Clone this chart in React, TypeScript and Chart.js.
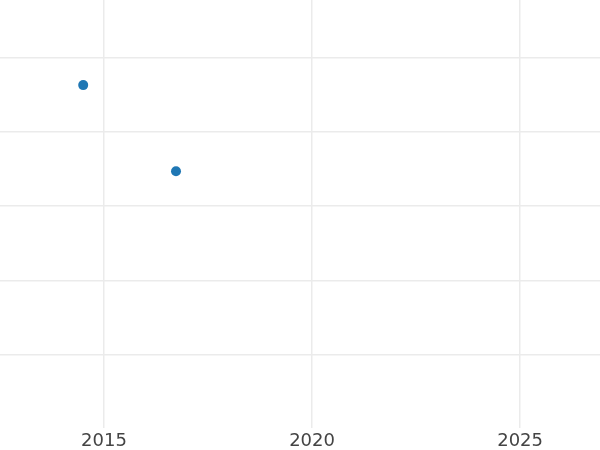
import React, { useEffect, useRef } from "react";
import { Chart, registerables } from "chart.js";

Chart.register(...registerables);

const xValues = [2014.5, 2016.73];
const yValues = [4.635, 3.473];
const xTicks = [2015, 2020, 2025];
const yTicks = [1, 2, 3, 4, 5];

export default function App() {
  const ref = useRef<HTMLCanvasElement | null>(null);
  useEffect(() => {
    document.body.style.margin = "0";
    const ctx = ref.current!;
    const chart = new Chart(ctx, {
      type: "scatter",
      data: {
        datasets: [
          {
            data: xValues.map((x, i) => ({ x, y: yValues[i] })),
            backgroundColor: "#1f77b4",
            borderWidth: 0,
            pointRadius: 5,
            pointHoverRadius: 5,
          },
        ],
      },
      options: {
        animation: false,
        responsive: false,
        maintainAspectRatio: false,
        layout: { padding: 0, autoPadding: false },
        plugins: { legend: { display: false }, tooltip: { enabled: false } },
        scales: {
          x: {
            type: "linear",
            min: 2012.5,
            max: 2026.92,
            afterBuildTicks: (axis: any) => {
              axis.ticks = xTicks.map((v) => ({ value: v }));
            },
            afterFit: (axis: any) => {
              axis.height = 22.5;
            },
            grid: { color: "#ebebeb", lineWidth: 1.5, drawTicks: false },
            border: { display: false },
            ticks: {
              padding: 2.7,
              color: "#444444",
              font: { family: "DejaVu Sans", size: 18 },
              maxRotation: 0,
              autoSkip: false,
              callback: (v: any) => String(v),
            },
          },
          y: {
            type: "linear",
            min: 0.0135,
            max: 5.784,
            afterBuildTicks: (axis: any) => {
              axis.ticks = yTicks.map((v) => ({ value: v }));
            },
            grid: { color: "#ebebeb", lineWidth: 1.5, drawTicks: false },
            border: { display: false },
            ticks: { display: false },
          },
        },
      },
    });
    return () => chart.destroy();
  }, []);
  return <canvas ref={ref} width={600} height={450} style={{ display: "block" }} />;
}
